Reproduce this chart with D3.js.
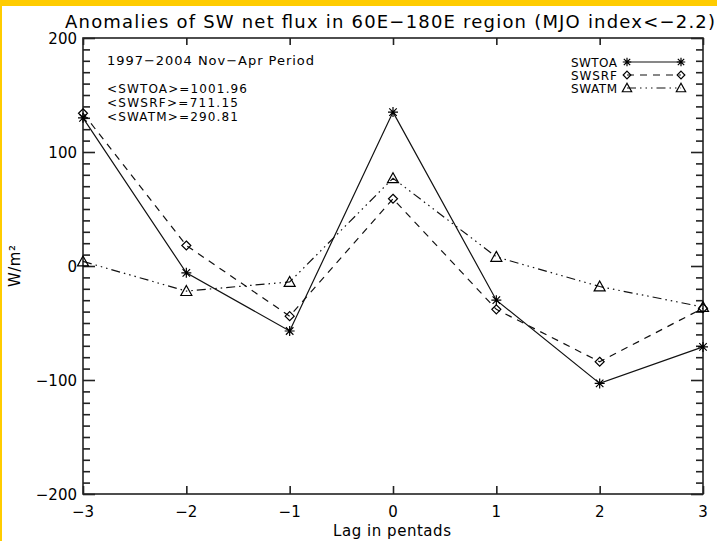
<!DOCTYPE html>
<html>
<head>
<meta charset="utf-8">
<script src="https://cdn.jsdelivr.net/npm/d3@7"></script>
<style>
  html, body { margin: 0; padding: 0; background: #fff; }
  svg { display: block; }
  text { font-family: "DejaVu Sans", sans-serif; fill: #000; }
</style>
</head>
<body>
<script>
// ---- Data ----
const lags = [-3, -2, -1, 0, 1, 2, 3];
const swtoa = [130, -6, -57, 135, -30, -103, -71];
const swsrf = [134, 18, -44, 59, -38, -84, -37];
const swatm = [4, -22, -14, 77, 8, -18, -36];
const xTicks = [-3, -2, -1, 0, 1, 2, 3];
const yTicks = [-200, -100, 0, 100, 200];
const seriesNames = ["SWTOA", "SWSRF", "SWATM"];
const meanLabels = ["<SWTOA>=1001.96", "<SWSRF>=711.15", "<SWATM>=290.81"];
const titleText = "Anomalies of SW net flux in 60E\u2212180E region (MJO index<\u22122.2)";
const periodText = "1997\u22122004 Nov\u2212Apr Period";

const W = 717, H = 541;
const m = { left: 83, right: 703, top: 38, bottom: 494 };

const svg = d3.select("body").append("svg").attr("width", W).attr("height", H);

// yellow frame pieces
svg.append("rect").attr("x", 0).attr("y", 0).attr("width", W).attr("height", 6).attr("fill", "#FFCC00");
svg.append("rect").attr("x", 0).attr("y", 0).attr("width", 2).attr("height", H).attr("fill", "#FFCC00");

const x = d3.scaleLinear().domain([-3, 3]).range([m.left, m.right]);
const y = d3.scaleLinear().domain([-200, 200]).range([m.bottom, m.top]);
const fmt = d => (d < 0 ? "\u2212" + Math.abs(d) : String(d));

const axColor = "#222";
// frame
svg.append("rect").attr("x", m.left).attr("y", m.top)
  .attr("width", m.right - m.left).attr("height", m.bottom - m.top)
  .attr("fill", "none").attr("stroke", axColor).attr("stroke-width", 1.6);

// Y axes (left & right) with minor ticks
const minorY = d3.range(-200, 201, 10).filter(v => v % 100 !== 0);
const gl = svg.append("g").attr("transform", `translate(${m.left},0)`)
  .call(d3.axisRight(y).tickValues(yTicks).tickSize(12).tickFormat(""));
const glm = svg.append("g").attr("transform", `translate(${m.left},0)`)
  .call(d3.axisRight(y).tickValues(minorY).tickSize(7).tickFormat(""));
const gr = svg.append("g").attr("transform", `translate(${m.right},0)`)
  .call(d3.axisLeft(y).tickValues(yTicks).tickSize(12).tickFormat(""));
const grm = svg.append("g").attr("transform", `translate(${m.right},0)`)
  .call(d3.axisLeft(y).tickValues(minorY).tickSize(7).tickFormat(""));
// X axes
const gb = svg.append("g").attr("transform", `translate(0,${m.bottom})`)
  .call(d3.axisTop(x).tickValues(xTicks).tickSize(8).tickFormat(""));
const gt = svg.append("g").attr("transform", `translate(0,${m.top})`)
  .call(d3.axisBottom(x).tickValues(xTicks).tickSize(7).tickFormat(""));
[gl, glm, gr, grm, gb, gt].forEach(g => {
  g.select(".domain").remove();
  g.selectAll("line").attr("stroke", axColor).attr("stroke-width", 1.6);
});

// tick labels
svg.append("g").selectAll("text").data(yTicks).join("text")
  .attr("x", m.left - 6).attr("y", d => y(d) + 5.5)
  .attr("text-anchor", "end").attr("font-size", 15)
  .text(fmt);
svg.append("g").selectAll("text").data(xTicks).join("text")
  .attr("x", d => x(d)).attr("y", 517)
  .attr("text-anchor", "middle").attr("font-size", 15)
  .text(fmt);

// axis titles
svg.append("text").attr("x", 392).attr("y", 536).attr("text-anchor", "middle")
  .attr("font-size", 15).attr("textLength", 118).text("Lag in pentads");
svg.append("text").attr("transform", `translate(20,${y(0)}) rotate(-90)`)
  .attr("text-anchor", "middle").attr("font-size", 15)
  .attr("textLength", 42).attr("lengthAdjust", "spacing").text("W/m\u00B2");

// title
svg.append("text").attr("x", 65).attr("y", 28).attr("font-size", 18)
  .attr("textLength", 650).attr("lengthAdjust", "spacing").text(titleText);

// annotations
svg.append("text").attr("x", 107).attr("y", 65).attr("font-size", 13)
  .attr("textLength", 207).text(periodText);
svg.append("g").selectAll("text").data(meanLabels).join("text")
  .attr("x", 107).attr("y", (d, i) => 93 + i * 14)
  .attr("font-size", 12)
  .attr("textLength", (d, i) => [140, 131, 131][i])
  .text(d => d);

// series
const series = [
  { name: "SWTOA", vals: swtoa, dash: null, sym: "ast" },
  { name: "SWSRF", vals: swsrf, dash: "7,6", sym: "dia" },
  { name: "SWATM", vals: swatm, dash: "9,4,1.5,4,1.5,4,1.5,4", sym: "tri" }
];

function drawSym(g, sym, cx, cy, k) {
  k = k || 1;
  const s = g.append("g").attr("transform", `translate(${cx},${cy}) scale(${k})`)
    .attr("fill", "none").attr("stroke", "#000").attr("stroke-width", 1.2 / k);
  if (sym === "ast") {
    const r = 5;
    s.append("path").attr("d",
      `M${-r},0L${r},0M0,${-r}L0,${r}M${-r*0.75},${-r*0.75}L${r*0.75},${r*0.75}M${-r*0.75},${r*0.75}L${r*0.75},${-r*0.75}`);
  } else if (sym === "dia") {
    const r = 4.5;
    s.append("path").attr("d", `M0,${-r}L${r},0L0,${r}L${-r},0Z`);
  } else {
    const r = 5.5;
    s.append("path").attr("d", `M0,${-r}L${r},${r*0.8}L${-r},${r*0.8}Z`);
  }
}

const line = d3.line().x((d, i) => x(lags[i])).y(d => y(d));
series.forEach(s => {
  svg.append("path").datum(s.vals).attr("d", line)
    .attr("fill", "none").attr("stroke", "#111").attr("stroke-width", 1.2)
    .attr("stroke-dasharray", s.dash);
  const g = svg.append("g");
  s.vals.forEach((v, i) => drawSym(g, s.sym, x(lags[i]), y(v)));
});

// legend
const legY = [62, 75, 88];
series.forEach((s, i) => {
  svg.append("text").attr("x", 617).attr("y", legY[i] + 4.5).attr("text-anchor", "end")
    .attr("font-size", 12).attr("textLength", 46).text(seriesNames[i]);
  svg.append("line").attr("x1", 627).attr("x2", 681).attr("y1", legY[i]).attr("y2", legY[i])
    .attr("stroke", "#111").attr("stroke-width", 1.2).attr("stroke-dasharray", s.dash);
  const g = svg.append("g");
  drawSym(g, s.sym, 627, legY[i], 0.85);
  drawSym(g, s.sym, 681, legY[i], 0.85);
});
</script>
</body>
</html>
